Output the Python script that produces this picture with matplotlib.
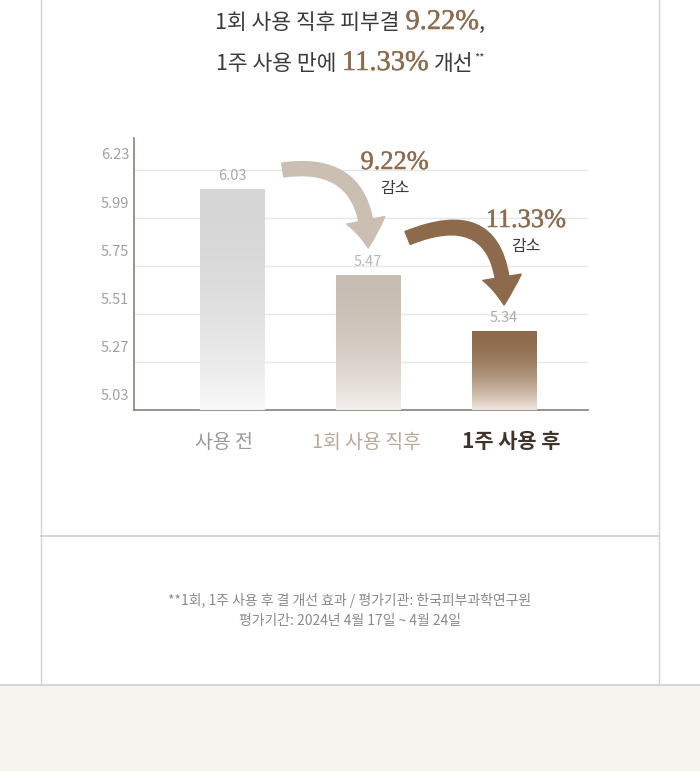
import matplotlib
matplotlib.use('Agg')
import matplotlib.pyplot as plt
import matplotlib.patheffects as pe
import numpy as np
from matplotlib.colors import to_rgb
from matplotlib.lines import Line2D
from matplotlib.patches import FancyArrowPatch, Rectangle
from matplotlib.transforms import ScaledTranslation, blended_transform_factory

W, H = 700, 771

KR = ['Noto Sans CJK KR', 'DejaVu Sans']
SERIF = ['Liberation Serif', 'DejaVu Serif']
plt.rcParams['font.family'] = KR

# Data
categories = ['사용 전', '1회 사용 직후', '1주 사용 후']
values = [6.03, 5.47, 5.34]           # printed values
bar_tops = [6.135, 5.705, 5.425]      # bar heights as drawn on the axis
drops = ['9.22%', '11.33%']
yticks = [5.03, 5.27, 5.51, 5.75, 5.99, 6.23]

# Styles
top_colors = ['#d6d6d6', '#c8bdb3', '#8e6a4b']
bottom_colors = ['#f8f8f8', '#f4efeb', '#f1e7df']
value_colors = ['#a9a9a9', '#b8b8b8', '#b0aaa5']
cat_colors = ['#9a9a9a', '#b8a899', '#3e342c']
cat_weights = ['normal', 'normal', 'bold']
cat_sizes = [14, 14, 15]
cat_shift = [-0.06, -0.01, 0.05]
arrow_colors = ['#cbbfb4', '#8d6a4c']
BROWN = '#8b6d51'
DARK = '#3b3b3b'
bolden = [pe.withStroke(linewidth=0.35, foreground=BROWN)]

fig = plt.figure(figsize=(W / 100, H / 100), dpi=100)
fig.patch.set_facecolor('white')


def px(x, y):
    return x / W, 1 - y / H


# page frame
fig.add_artist(Rectangle(px(0, H), 1, (H - 685) / H, transform=fig.transFigure,
                         facecolor='#f7f4f0', edgecolor='none', zorder=0))
fig.add_artist(Line2D([0, 1], [1 - 685 / H] * 2, transform=fig.transFigure,
                      color='#d6d6d6', lw=1.5))
for xv in (40.5, 659):
    fig.add_artist(Line2D([xv / W] * 2, [1 - 685 / H, 1], transform=fig.transFigure,
                          color='#d2d2d2', lw=1))
fig.add_artist(Line2D([40.5 / W, 659 / W], [1 - 536 / H] * 2, transform=fig.transFigure,
                      color='#d4d4d4', lw=1.4))

# axes
ax = fig.add_axes([134 / W, (H - 410) / H, (588 - 134) / W, (410 - 138) / H])
ax.set_facecolor('none')
x = np.arange(len(categories))

bars = ax.bar(x, np.array(bar_tops) - yticks[0], bottom=yticks[0], width=0.478,
              color='none', edgecolor='none', zorder=3)

for i, b in enumerate(bars):
    t = np.linspace(0, 1, 256) ** 1.9
    c0 = np.array(to_rgb(top_colors[i]))
    c1 = np.array(to_rgb(bottom_colors[i]))
    grad = (c0[None, :] * (1 - t[:, None]) + c1[None, :] * t[:, None])[:, None, :]
    im = ax.imshow(grad, aspect='auto', zorder=3, interpolation='bilinear',
                   extent=[b.get_x(), b.get_x() + b.get_width(), b.get_y(), b.get_y() + b.get_height()])
    im.set_clip_path(b)
    ax.annotate(f'{values[i]:.2f}', (x[i], bar_tops[i]), xytext=(0, 13),
                textcoords='offset pixels', ha='center', va='center',
                fontsize=10.5, color=value_colors[i], fontweight='light', zorder=5)

ax.set_xlim(-0.724, 2.618)
ax.set_ylim(yticks[0], 6.39)

ax.set_yticks(yticks, [''] * len(yticks))
ax.grid(axis='y', color='#e6e6e6', lw=1, zorder=0)
ax.set_axisbelow(True)
ytrans = blended_transform_factory(ax.transAxes, ax.transData) + \
    ScaledTranslation(-0.05, 0.145, fig.dpi_scale_trans)
for v in yticks:
    ax.text(0, v, f'{v:.2f}', transform=ytrans, ha='right', va='center',
            fontsize=10.5, color='#a0a0a0', fontweight='light')

ax.set_xticks([])
ax.tick_params(axis='y', length=0)
for i, cat in enumerate(categories):
    ax.annotate(cat, (x[i] + cat_shift[i], 0), xycoords=('data', 'axes fraction'),
                xytext=(0, -32), textcoords='offset pixels', ha='center', va='center',
                color=cat_colors[i], fontweight=cat_weights[i], fontsize=cat_sizes[i],
                annotation_clip=False)

for s in ('top', 'right'):
    ax.spines[s].set_visible(False)
for s in ('left', 'bottom'):
    ax.spines[s].set_color('#87817b')
    ax.spines[s].set_linewidth(1.2)

# arrows between bars
arrow_pts = [((0.371, 6.23), (1.0, 5.84)), ((1.29, 5.89), (2.0, 5.555))]
arrow_start_angle = [8, 22]
for (a, b), c, ang in zip(arrow_pts, arrow_colors, arrow_start_angle):
    ax.add_patch(FancyArrowPatch(a, b, connectionstyle=f'angle3,angleA={ang},angleB=90',
                                 arrowstyle='simple,head_length=1.0,head_width=1.4,tail_width=0.5',
                                 mutation_scale=20, color=c, shrinkA=0, shrinkB=0, zorder=4,
                                 clip_on=False))

label_pos = [(1.195, 6.265), (2.16, 5.975)]
for (lx, ly), d in zip(label_pos, drops):
    ax.text(lx, ly, d, ha='center', va='center', fontsize=19, color=BROWN,
            family=SERIF, zorder=6, path_effects=bolden)
    ax.annotate('감소', (lx, ly), xytext=(0, -26), textcoords='offset pixels',
                ha='center', va='center', fontsize=11.5, color=DARK, zorder=6)


# title with mixed fonts
def rich_line(runs, cx, baseline):
    r = fig.canvas.get_renderer()
    placed = []
    pos = 0
    for txt, kw, gap, dy in runs:
        t = fig.text(0, 1 - (baseline - dy) / H, txt, va='baseline', ha='left', **kw)
        placed.append((t, pos))
        pos += t.get_window_extent(r).width + gap
    start = cx - pos / 2
    for t, off in placed:
        t.set_x((start + off) / W)


kr_kw = dict(fontsize=15.5, color=DARK)
num_kw = dict(fontsize=20.5, color=BROWN, family=SERIF, path_effects=bolden)
rich_line([('1회 사용 직후 피부결', kr_kw, 6, 0),
           ('9.22%', num_kw, 0, 0),
           (',', kr_kw, 0, 0)], 350, 29)
rich_line([('1주 사용 만에', kr_kw, 6, 0),
           ('11.33%', num_kw, 6, 0),
           ('개선', kr_kw, 0, 0),
           ('**', dict(fontsize=8, color=DARK), 0, 10)], 350, 70)

fig.text(0.5, 1 - 600 / H, '**1회, 1주 사용 후 결 개선 효과 / 평가기관: 한국피부과학연구원',
         ha='center', va='center', fontsize=10, color='#8a8a8a', fontweight='light')
fig.text(0.5, 1 - 621 / H, '평가기간: 2024년 4월 17일 ~ 4월 24일',
         ha='center', va='center', fontsize=10, color='#8a8a8a', fontweight='light')

fig.savefig('out.png', dpi=100, facecolor=fig.get_facecolor())
